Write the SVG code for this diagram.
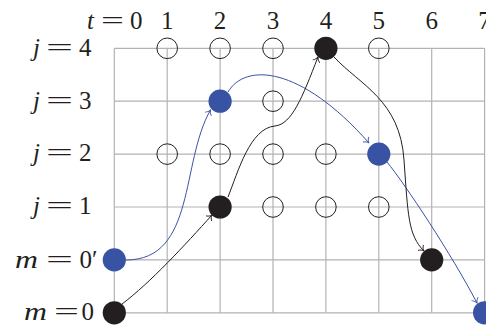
<svg xmlns="http://www.w3.org/2000/svg" width="486" height="325" viewBox="0 0 486 325">
<style>
.grid{stroke:#b3b3b3;stroke-width:1.2;fill:none}
.lbl{font-family:"Liberation Serif","Times New Roman",serif;font-size:25px;fill:#231f20}
.it{font-style:italic}
.open{fill:none;stroke:#231f20;stroke-width:1}
.blk{fill:#231f20}
.blu{fill:#3953a4}
.cb{fill:none;stroke:#231f20;stroke-width:1}
.cu{fill:none;stroke:#3953a4;stroke-width:1}
</style>
<defs>
<marker id="ak" markerUnits="userSpaceOnUse" orient="auto" refX="0" refY="0" markerWidth="10" markerHeight="10" overflow="visible"><path d="M-4.5,-3.5 C-3.2,-1.4 -1.5,-0.4 0,0 C-1.5,0.4 -3.2,1.4 -4.5,3.5" fill="none" stroke="#231f20" stroke-width="0.9" stroke-linecap="round"/></marker>
<marker id="au" markerUnits="userSpaceOnUse" orient="auto" refX="0" refY="0" markerWidth="10" markerHeight="10" overflow="visible"><path d="M-4.5,-3.5 C-3.2,-1.4 -1.5,-0.4 0,0 C-1.5,0.4 -3.2,1.4 -4.5,3.5" fill="none" stroke="#3953a4" stroke-width="0.9" stroke-linecap="round"/></marker>
</defs>
<g id="grid" class="grid">
<path d="M114.3,48.3H484.6M114.3,101.2H484.6M114.3,154.1H484.6M114.3,207H484.6M114.3,259.9H484.6M114.3,312.8H484.6"/>
<path d="M114.3,48.3V312.8M167.2,48.3V312.8M220.1,48.3V312.8M273,48.3V312.8M325.9,48.3V312.8M378.8,48.3V312.8M431.7,48.3V312.8M484.6,48.3V312.8"/>
</g>
<g id="labels" class="lbl">
<text y="29"><tspan class="it" x="87">t</tspan><tspan x="101" textLength="23" lengthAdjust="spacingAndGlyphs">=</tspan><tspan x="130">0</tspan></text>
<text x="167.2" y="29" text-anchor="middle">1</text>
<text x="220.1" y="29" text-anchor="middle">2</text>
<text x="273" y="29" text-anchor="middle">3</text>
<text x="325.9" y="29" text-anchor="middle">4</text>
<text x="378.8" y="29" text-anchor="middle">5</text>
<text x="431.7" y="29" text-anchor="middle">6</text>
<text x="484.6" y="29" text-anchor="middle">7</text>
<text y="55.6"><tspan class="it" x="33">j</tspan><tspan x="46" textLength="27" lengthAdjust="spacingAndGlyphs">=</tspan><tspan x="79">4</tspan></text>
<text y="108.5"><tspan class="it" x="33">j</tspan><tspan x="46" textLength="27" lengthAdjust="spacingAndGlyphs">=</tspan><tspan x="79">3</tspan></text>
<text y="161.4"><tspan class="it" x="33">j</tspan><tspan x="46" textLength="27" lengthAdjust="spacingAndGlyphs">=</tspan><tspan x="79">2</tspan></text>
<text y="214.3"><tspan class="it" x="33">j</tspan><tspan x="46" textLength="27" lengthAdjust="spacingAndGlyphs">=</tspan><tspan x="79">1</tspan></text>
<text y="267.6"><tspan class="it" x="15" textLength="23" lengthAdjust="spacingAndGlyphs">m</tspan><tspan x="46" textLength="27" lengthAdjust="spacingAndGlyphs">=</tspan><tspan x="79.5">0</tspan><tspan x="92">′</tspan></text>
<text y="320.3"><tspan class="it" x="24" textLength="23" lengthAdjust="spacingAndGlyphs">m</tspan><tspan x="54" textLength="25" lengthAdjust="spacingAndGlyphs">=</tspan><tspan x="81.5">0</tspan></text>
</g>
<g id="connectors">
<path class="cu" d="M126,260 C196,260 180.5,162 210.5,110" marker-end="url(#au)"/>
<path class="cu" d="M228,92 C245,63 300,65 369,143" marker-end="url(#au)"/>
<path class="cu" d="M387,162 C405,184 452,255 477,303" marker-end="url(#au)"/>
<path class="cb" d="M122,304 C150,283 185,245 212,215" marker-end="url(#ak)"/>
<path class="cb" d="M228,197 C238,172 250,128 275,126 C292,124 302,98 318,57" marker-end="url(#ak)"/>
<path class="cb" d="M334,57 C360,85 400,100 404,160 C408,215 408,235 424,251" marker-end="url(#ak)"/>
</g>
<g id="n-1-4"><circle class="open" cx="167.2" cy="48.3" r="10.3"/></g>
<g id="n-2-4"><circle class="open" cx="220.1" cy="48.3" r="10.3"/></g>
<g id="n-3-4"><circle class="open" cx="273" cy="48.3" r="10.3"/></g>
<g id="n-4-4"><circle class="blk" cx="325.9" cy="48.3" r="11.6"/></g>
<g id="n-5-4"><circle class="open" cx="378.8" cy="48.3" r="10.3"/></g>
<g id="n-2-3"><circle class="blu" cx="220.1" cy="101.2" r="11.6"/></g>
<g id="n-3-3"><circle class="open" cx="273" cy="101.2" r="10.3"/></g>
<g id="n-1-2"><circle class="open" cx="167.2" cy="154.1" r="10.3"/></g>
<g id="n-2-2"><circle class="open" cx="220.1" cy="154.1" r="10.3"/></g>
<g id="n-3-2"><circle class="open" cx="273" cy="154.1" r="10.3"/></g>
<g id="n-4-2"><circle class="open" cx="325.9" cy="154.1" r="10.3"/></g>
<g id="n-5-2"><circle class="blu" cx="378.8" cy="154.1" r="11.6"/></g>
<g id="n-2-1"><circle class="blk" cx="220.1" cy="207" r="11.6"/></g>
<g id="n-3-1"><circle class="open" cx="273" cy="207" r="10.3"/></g>
<g id="n-4-1"><circle class="open" cx="325.9" cy="207" r="10.3"/></g>
<g id="n-5-1"><circle class="open" cx="378.8" cy="207" r="10.3"/></g>
<g id="n-0-0p"><circle class="blu" cx="114.3" cy="259.9" r="11.6"/></g>
<g id="n-6-0p"><circle class="blk" cx="431.7" cy="259.9" r="11.6"/></g>
<g id="n-0-0"><circle class="blk" cx="114.3" cy="312.8" r="11.6"/></g>
<g id="n-7-0"><circle class="blu" cx="484.6" cy="312.8" r="11.6"/></g>
</svg>
